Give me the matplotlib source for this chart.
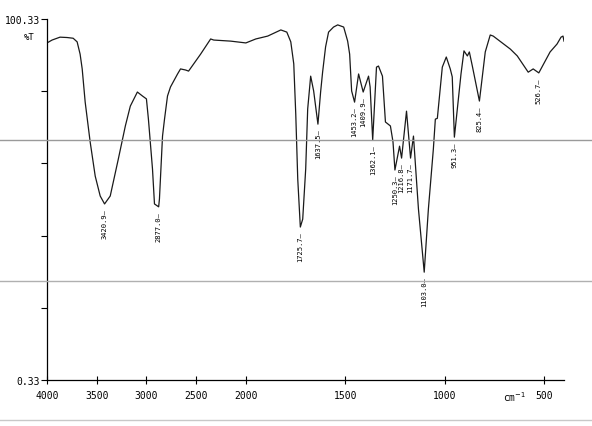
import numpy as np
import matplotlib
matplotlib.use("Agg")
import matplotlib.pyplot as plt
from matplotlib.lines import Line2D

# spectrum trace, wavenumber (cm-1) and %T
wavenumber = [4000, 3949, 3869, 3798, 3737, 3697, 3667, 3646, 3616, 3566, 3515, 3465,
              3421, 3364, 3283, 3212, 3162, 3091, 3040, 3000, 2980, 2939, 2919, 2877,
              2869, 2838, 2818, 2788, 2758, 2687, 2657, 2606, 2576, 2455, 2354, 2323,
              2152, 2000, 1950, 1890, 1824, 1794, 1774, 1759, 1749, 1739, 1726, 1714,
              1699, 1689, 1674, 1659, 1637.5, 1624, 1614, 1599, 1584, 1559, 1538, 1508,
              1488, 1478, 1468, 1453.2, 1433, 1409.9, 1383, 1375, 1362.1, 1343, 1333,
              1313, 1298, 1273, 1260, 1250.3, 1227, 1216.8, 1192, 1171.7, 1157, 1132,
              1103.0, 1082, 1057, 1047, 1037, 1012, 992, 972, 962, 951.3, 918, 903, 886,
              876, 861, 825.4, 796, 771, 756, 670, 635, 580, 555, 526.7, 470, 435, 415,
              405, 400]
transmit = [93.7, 94.5, 95.3, 95.2, 95.0, 94.0, 90.6, 86.5, 77.3, 66.3, 56.8, 51.3,
            49.1, 51.3, 61.5, 70.7, 76.2, 80.1, 79.0, 78.2, 72.6, 58.8, 49.1, 48.3,
            50.5, 67.9, 72.6, 79.0, 81.5, 85.1, 86.5, 86.2, 85.9, 90.6, 94.8, 94.5,
            94.2, 93.7, 94.8, 95.6, 97.3, 96.7, 94.0, 87.9, 74.0, 56.0, 42.7, 44.9,
            58.8, 75.4, 84.5, 80.4, 71.2, 80.1, 85.6, 92.6, 96.7, 98.1, 98.7, 98.1,
            94.2, 90.6, 80.4, 77.3, 85.1, 80.1, 84.5, 81.5, 66.8, 87.0, 87.3,
            84.5, 71.8, 70.7, 66.3, 58.5, 65.1, 61.8, 74.8, 61.8, 67.9, 47.7,
            30.2, 47.7, 64.3, 72.6, 72.8, 87.0, 89.8, 86.5, 84.3, 67.6, 85.1, 91.5, 90.1,
            91.2, 87.3, 77.6, 91.2, 95.9, 95.6, 92.0, 90.1, 85.6, 86.5, 85.4, 91.2, 93.4, 95.3,
            95.6, 94.2]

peak_labels = ["3420.9", "2877.0", "1725.7", "1637.5", "1453.2", "1409.9", "1362.1",
               "1250.3", "1216.8", "1171.7", "1103.0", "951.3", "825.4", "526.7"]

x_ticks = [4000, 3500, 3000, 2500, 2000, 1500, 1000, 500]


# scale change at 2000 cm-1 (below 2000 is drawn twice as wide)
def fwd(w):
    w = np.asarray(w, dtype=float)
    return np.where(w >= 2000, w, 2 * w - 2000)


def inv(u):
    u = np.asarray(u, dtype=float)
    return np.where(u >= 2000, u, (u + 2000) / 2)


mono = "DejaVu Sans Mono"
fig = plt.figure(figsize=(5.92, 4.27), dpi=100)
ax = fig.add_axes([47 / 592, 1 - 381 / 427, 517 / 592, 361 / 427])
ax.set_xscale("function", functions=(fwd, inv))

ax.plot(wavenumber, transmit, color="#1a1a1a", lw=0.9)
ax.set_xlim(4000, 400)
ax.set_ylim(0.33, 100.33)

for s in ["top", "right"]:
    ax.spines[s].set_visible(False)
for s in ["left", "bottom"]:
    ax.spines[s].set_linewidth(0.9)

ax.set_xticks(x_ticks)
ax.set_xticklabels([str(t) for t in x_ticks], fontfamily=mono, fontsize=7)
ax.tick_params(axis="x", direction="inout", length=6, width=0.8, pad=4)
ax.set_yticks([0.33, 20.33, 40.33, 60.33, 80.33, 100.33])
ax.set_yticklabels(["0.33", "", "", "", "", "100.33"], fontfamily=mono, fontsize=7)
ax.tick_params(axis="y", direction="out", length=4, width=0.8, pad=1)

ax.text(-0.035, 0.965, "%T", transform=ax.transAxes, fontfamily=mono, fontsize=6.5,
        ha="center", va="top")
fig.text(526 / 592, 1 - 390 / 427, "cm$^{-1}$", fontfamily=mono, fontsize=7,
         ha="right", va="top")

for lab in peak_labels:
    w = float(lab)
    i = int(np.argmin(np.abs(np.array(wavenumber) - w)))
    ax.annotate(lab + "\u2014", xy=(wavenumber[i], transmit[i]), xytext=(0, -3),
                textcoords="offset points", rotation=90, ha="center", va="top",
                fontfamily=mono, fontsize=5.1)

# scanner lines across the page
for yy, c in [(141, "#9a9a9a"), (282, "#b0b0b0"), (421, "#c8c8c8")]:
    fig.add_artist(Line2D([0, 1], [1 - yy / 427, 1 - yy / 427], transform=fig.transFigure,
                          color=c, lw=1.0))

fig.savefig("out.png", dpi=100)
